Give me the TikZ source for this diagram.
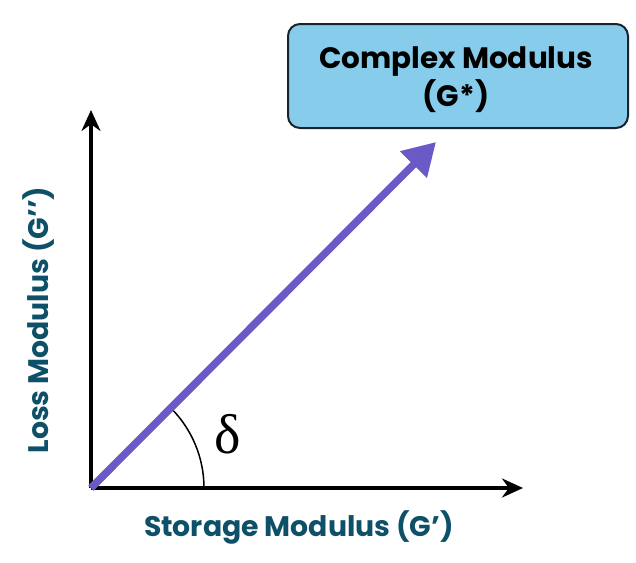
\documentclass[tikz,border=0pt]{standalone}
\usepackage{fontspec}
\setmainfont{Poppins}
\newfontfamily\deltafont{Liberation Serif}
\usetikzlibrary{arrows.meta}
\definecolor{boxfill}{RGB}{135,205,235}
\definecolor{boxline}{RGB}{25,35,45}
\definecolor{labteal}{RGB}{14,80,104}
\definecolor{vecpurple}{RGB}{106,90,200}
\tikzset{
  axis/.style={line width=3.2pt, -{Stealth[length=21pt,width=19pt]}},
  vec/.style={line width=7.5pt, vecpurple, -{Triangle[length=32pt,width=36pt]}},
  axlabel/.style={font=\fontsize{28.3}{33}\selectfont\bfseries, text=labteal},
  cbox/.style={draw=boxline, line width=2pt, fill=boxfill, rounded corners=12pt, minimum width=340pt, minimum height=104pt},
  ctext/.style={align=center, font=\fontsize{29.5}{38}\selectfont\bfseries}
}
\begin{document}
\begin{tikzpicture}[x=1pt,y=-1pt]
\useasboundingbox (0,0) rectangle (636,562);
\coordinate (O) at (91,488);
\coordinate (xend) at (523,488);
\coordinate (yend) at (91,110);
\coordinate (vend) at (436,142);
\node[cbox] (box) at (458,76) {};
\node[ctext] (boxtext) at (456,80) {Complex Modulus\\(G*)};
\draw[axis] (O) -- (xend);
\draw[axis] (O) -- (yend);
\draw[black, line width=1.5pt] ([xshift=113pt]O) arc[start angle=0, end angle=45, radius=113pt];
\draw[vec] (O) -- (vend);
\node[font=\deltafont\fontsize{56}{56}\selectfont] (delta) at (228,434) {δ};
\node[axlabel] (xlab) at (299,527) {Storage Modulus (G’)};
\node[axlabel, rotate=90] (ylab) at (39,320) {Loss Modulus (G’’)};
\end{tikzpicture}
\end{document}
